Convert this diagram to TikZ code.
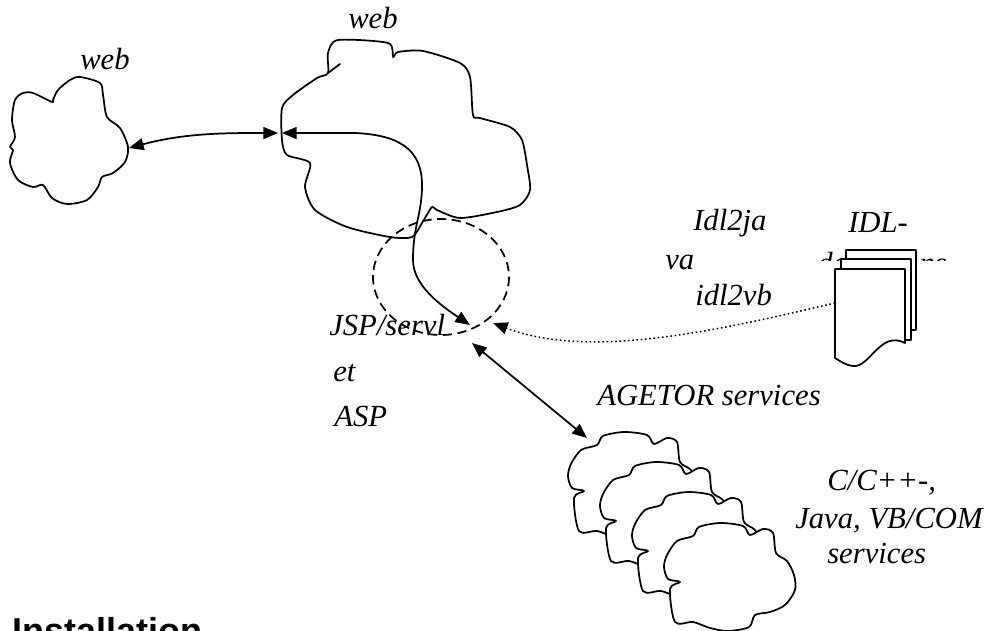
\documentclass[tikz,border=0pt]{standalone}
\usepackage{fontspec}
\setmainfont{Liberation Serif}
\setsansfont{Liberation Sans}
\usetikzlibrary{arrows.meta}
\tikzset{
  lbl/.style={font=\fontsize{23}{28}\selectfont\itshape, inner sep=0pt, anchor=base west},
  ln/.style={line width=1.3pt, line join=round, line cap=round},
  tipa/.tip={Triangle[length=11pt,width=9pt]},
  arr/.style={ln, tipa-tipa},
  cloudpic/.pic={
    \draw[ln, fill=white] plot[smooth cycle, tension=0.5] coordinates {
      (4,32) (14,18) (30,13) (36,4) (57,0) (80,3) (87,12) (100,6) (110,10)
      (113,30) (124,38) (131,52) (132,67) (122,82) (107,89) (92,92) (86,104)
      (65,108) (47,105) (30,99) (12,99) (7,66) (17,59) (5,56) (1,44)};
  },
  sheet/.style={ln, fill=white},
}
\begin{document}
\begin{tikzpicture}[x=0.75pt,y=-0.75pt]
\useasboundingbox (0,0) rectangle (995,631);

% left web cloud
\draw[ln] plot[smooth cycle, tension=0.5] coordinates {
 (53,100) (58,90) (70,80) (80,77) (100,83) (103,95) (107,117) (120,128)
 (128,147) (125,162) (113,173) (102,177) (98,187) (87,200) (67,204) (52,198)
 (43,185) (33,187) (18,180) (10,163) (13,150) (10,147) (15,137) (12,120)
 (15,100) (23,93) (33,93) (52,102)};
\node[lbl] (webl) at (80,70) {web};

% big web cloud
\draw[ln] plot[smooth cycle, tension=0.45] coordinates {
 (328,73) (328,53) (338,40) (388,43) (393,57) (398,52) (423,51) (460,63)
 (470,77) (473,115) (480,118) (510,127) (522,140) (527,165) (530,190)
 (520,205) (497,212) (460,218) (437,210) (432,207) (422,223) (412,237)
 (390,237) (347,227) (315,210) (305,187) (310,163) (287,155) (282,140)
 (282,108) (293,95) (317,78)};
\draw[ln] (328,73) -- (340,64);
\node[lbl] (webt) at (348,29) {web};

% arrows between clouds
\coordinate (lc) at (129,148);
\coordinate (bc1) at (278,133);
\coordinate (bc2) at (282,133);
\coordinate (jsp) at (470,325);
\draw[arr] (lc) .. controls (185,133) and (225,133) .. (bc1);
\draw[arr] (bc2) -- (355,133) .. controls (400,135) and (422,150) .. (422,185)
  .. controls (422,215) and (413,225) .. (413,260)
  .. controls (413,285) and (440,305) .. (jsp);

% dashed circle
\draw[ln, line cap=butt, dash pattern=on 7pt off 4pt] (441,277) ellipse [x radius=68, y radius=58];

% JSP text
\node[lbl] (t1) at (329,335) {JSP/servl};
\node[lbl] (t2) at (333,381) {et};
\node[lbl] (t3) at (334,426) {ASP};

% Idl2java text
\node[lbl] (i1) at (693,230) {Idl2ja};
\node[lbl] (i2) at (665,269) {va};
\node[lbl] (i3) at (695,305) {idl2vb};

% IDL definitions
\node[lbl] (d1) at (848,232) {IDL-};
\begin{scope}
  \clip (800,200) rectangle (960,260);
  \node[lbl] (d2) at (817,273) {definitions};
\end{scope}

% document stack
\draw[sheet] (846,250) rectangle (916,330);
\draw[sheet] (841,259) rectangle (911,340);
\draw[sheet] (835,269) -- (905,269) -- (905,343)
  .. controls (880,330) and (870,368) .. (853,366)
  .. controls (845,365) and (840,361) .. (835,358) -- cycle;
\coordinate (doc) at (835,303);
\coordinate (dtip) at (493,323);
\draw[line width=1.1pt, dash pattern=on 1.2pt off 2pt, -tipa] (doc) .. controls (720,330) and (590,360) .. (dtip);

% AGETOR
\node[lbl] (ag) at (597,405) {AGETOR services};
\coordinate (a1) at (472,343);
\coordinate (a2) at (587,438);
\draw[arr] (a1) -- (a2);

% stacked clouds
\pic at (567,432) {cloudpic};
\pic at (599,462) {cloudpic};
\pic at (631,492) {cloudpic};
\pic at (663,523) {cloudpic};

\node[lbl] (c1) at (827,490) {C/C++-,};
\node[lbl] (c2) at (795,528) {Java, VB/COM};
\node[lbl] (c3) at (827,563) {services};

\node[font=\fontsize{27}{30}\selectfont\sffamily\bfseries, inner sep=0pt, anchor=base west] (inst) at (12,643) {Installation};
\end{tikzpicture}
\end{document}
